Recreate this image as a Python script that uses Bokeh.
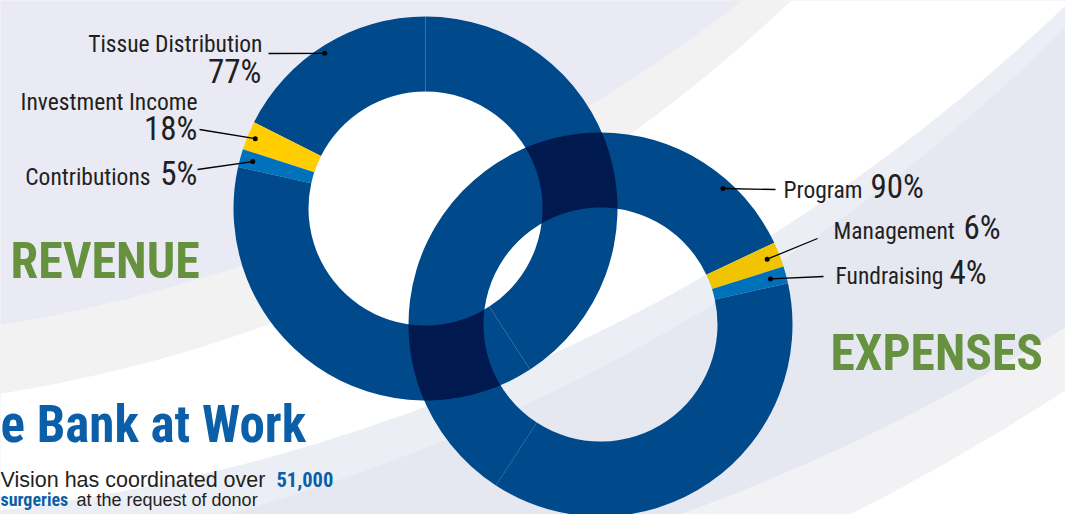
import numpy as np
from bokeh.plotting import figure
from bokeh.models import Range1d
from bokeh.core.properties import value
from bokeh.embed import file_html
from bokeh.resources import INLINE

# ---------------- data ----------------
revenue_categories = ["Tissue Distribution", "Investment Income", "Contributions"]
revenue_percent = [77, 18, 5]
expense_categories = ["Program", "Management", "Fundraising"]
expense_percent = [90, 6, 4]

# ring segments as they are drawn in the graphic (degrees of arc, from 12 o'clock)
revenue_segment_category = ["Tissue Distribution", "Investment Income", "Contributions",
                            "Tissue Distribution", "Tissue Distribution"]
revenue_segment_degrees = [63.3, 8.7, 5.5, 135.5, 147.0]      # counter-clockwise
expense_segment_category = ["Program", "Management", "Fundraising", "Program", "Program"]
expense_segment_degrees = [64.8, 7.6, 5.2, 135.4, 147.0]      # clockwise

# ---------------- style / layout ----------------
W, H = 1065, 514
def Y(ypx):
    return H - ypx

FONT = "Roboto Condensed"
BODY_FONT = "Liberation Sans"
DARK = "#004a8c"
OVERLAP = "#001a4f"
TXT = "#231f20"
rev_colors = {"Tissue Distribution": DARK, "Investment Income": "#ffcd00", "Contributions": "#0072bc"}
exp_colors = {"Program": DARK, "Management": "#f0c400", "Fundraising": "#0070ba"}

REV_C = (425.0, Y(208))
EXP_C = (600.0, Y(324))
R_OUT, R_IN = 192.0, 117.0

p = figure(width=W, height=H, x_range=Range1d(0, W), y_range=Range1d(0, H),
           output_backend="svg", toolbar_location=None, min_border=0,
           x_axis_location=None, y_axis_location=None)
p.outline_line_color = None
p.grid.visible = False
p.background_fill_color = "white"
p.border_fill_color = "white"

# ---------------- background swooshes ----------------
bg = [((-140, Y(-1451)), 2200, "#f2f2f4"),
      ((-40, Y(-1459)), 2100, "#e5e7f1"),
      ((-277, Y(-1318)), 1900, "#eceef5"),
      ((-228, Y(-1346)), 1870, "#ffffff"),
      ((-235, Y(-1071)), 1483, "#f2f2f3"),
      ((-278, Y(-1322)), 1670, "#e9eaf3")]
for (cx, cy), r, col in bg:
    p.circle(x=[cx], y=[cy], radius=[r], fill_color=col, line_color=None)

# white hole of the revenue ring
p.circle(x=[REV_C[0]], y=[REV_C[1]], radius=[R_IN], fill_color="white", line_color=None)

# ---------------- rings ----------------
def ring(center, degrees, cats, colors, clockwise):
    cum = np.concatenate([[0.0], np.cumsum(degrees)])
    if clockwise:
        start = 90 - cum[1:]
        end = 90 - cum[:-1]
    else:
        start = 90 + cum[:-1]
        end = 90 + cum[1:]
    n = len(degrees)
    p.annular_wedge(x=[center[0]] * n, y=[center[1]] * n,
                    inner_radius=R_IN, outer_radius=R_OUT,
                    start_angle=list(np.radians(start)), end_angle=list(np.radians(end)),
                    fill_color=[colors[c] for c in cats], line_color=None)

ring(REV_C, revenue_segment_degrees, revenue_segment_category, rev_colors, clockwise=False)
ring(EXP_C, expense_segment_degrees, expense_segment_category, exp_colors, clockwise=True)

# ---------------- overlap of the two rings ----------------
def intersect(r1, r2, sign):
    c1, c2 = REV_C, EXP_C
    dx, dy = c2[0] - c1[0], c2[1] - c1[1]
    d = np.hypot(dx, dy)
    a = (r1 * r1 - r2 * r2 + d * d) / (2 * d)
    h = np.sqrt(r1 * r1 - a * a)
    px, py = c1[0] + a * dx / d, c1[1] + a * dy / d
    return (px - sign * h * dy / d, py + sign * h * dx / d)

def arc(c, r, p0, p1, n=48):
    a0 = np.arctan2(p0[1] - c[1], p0[0] - c[0])
    a1 = np.arctan2(p1[1] - c[1], p1[0] - c[0])
    delta = (a1 - a0 + np.pi) % (2 * np.pi) - np.pi
    t = a0 + np.linspace(0, 1, n) * delta
    return list(c[0] + r * np.cos(t)), list(c[1] + r * np.sin(t))

xs, ys = [], []
for sign in (1, -1):
    q1 = intersect(R_IN, R_OUT, sign)
    q2 = intersect(R_OUT, R_OUT, sign)
    q3 = intersect(R_OUT, R_IN, sign)
    q4 = intersect(R_IN, R_IN, sign)
    px_, py_ = [], []
    for c, r, a, b in [(EXP_C, R_OUT, q1, q2), (REV_C, R_OUT, q2, q3),
                       (EXP_C, R_IN, q3, q4), (REV_C, R_IN, q4, q1)]:
        ax, ay = arc(c, r, a, b)
        px_ += ax
        py_ += ay
    xs.append(px_)
    ys.append(py_)
p.patches(xs=xs, ys=ys, fill_color=OVERLAP, line_color=None)

# ---------------- leader lines ----------------
# (ring centre, dot angle, dot radius, line end in px)
leaders = [(REV_C, 123.0, 185, (268, 53)),
           (REV_C, 157.7, 184, (199, 129)),
           (REV_C, 164.8, 179, (197, 169)),
           (EXP_C, 48.0, 183, (775, 189)),
           (EXP_C, 21.4, 179, (817, 238)),
           (EXP_C, 15.0, 176, (823, 276))]
lx, ly, dx_, dy_ = [], [], [], []
for c, ang, r, (ex, ey) in leaders:
    x0 = c[0] + r * np.cos(np.radians(ang))
    y0 = c[1] + r * np.sin(np.radians(ang))
    lx.append([x0, ex])
    ly.append([y0, Y(ey)])
    dx_.append(x0)
    dy_.append(y0)
p.multi_line(xs=lx, ys=ly, line_color="black", line_width=1.3)
p.scatter(x=dx_, y=dy_, size=5, fill_color="black", line_color=None)

# ---------------- labels ----------------
K = 0.37   # baseline correction (fraction of font size)
def txt(x, ypx, s, size, align="left", color=TXT, font=FONT, style="normal"):
    yy = ypx - K * size
    p.text(x=[x], y=[Y(yy)], text=[s], text_font=value(font), text_font_size=f"{size}px",
           text_align=align, text_baseline="alphabetic", text_color=color,
           text_font_style=style)

pct = lambda v: f"{v}%"
txt(262, 52, revenue_categories[0], 23.5, "right")
txt(261, 83, pct(revenue_percent[0]), 33, "right")
txt(197, 110, revenue_categories[1], 23.5, "right")
txt(197, 140, pct(revenue_percent[1]), 33, "right")
txt(150, 185, revenue_categories[2], 23.5, "right")
txt(197, 185, pct(revenue_percent[2]), 33, "right")

txt(783, 198, expense_categories[0], 23.5, "left")
txt(870, 198, pct(expense_percent[0]), 33, "left")
txt(833, 239, expense_categories[1], 23.5, "left")
txt(963, 239, pct(expense_percent[1]), 33, "left")
txt(835, 284, expense_categories[2], 23.5, "left")
txt(949, 284, pct(expense_percent[2]), 33, "left")

GREEN = "#66923f"
BLUE = "#0b5ea8"
txt(10, 279, "REVENUE", 50, "left", GREEN, FONT, "bold")
txt(830, 371, "EXPENSES", 49.5, "left", GREEN, FONT, "bold")
txt(0, 443, "e Bank at Work", 51, "left", BLUE, FONT, "bold")

txt(0, 487, "Vision has coordinated over", 21.5, "left", TXT, BODY_FONT)
txt(276, 487, "51,000", 20.5, "left", BLUE, FONT, "bold")
txt(0, 506, "surgeries", 18, "left", BLUE, FONT, "bold")
txt(76, 506, "at the request of donor", 18, "left", TXT, BODY_FONT)

open("out.html", "w").write(file_html(p, INLINE))
